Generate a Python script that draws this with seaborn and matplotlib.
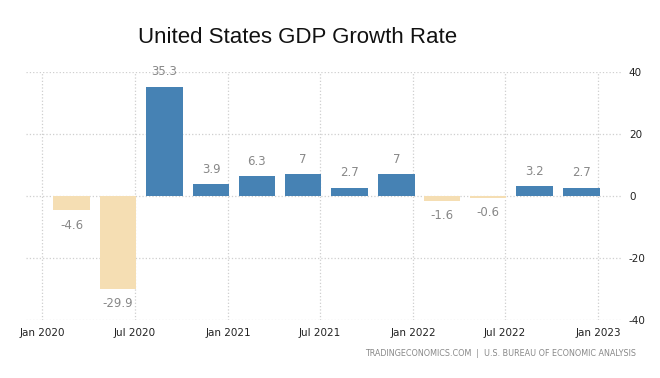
import pandas as pd
import matplotlib
matplotlib.use("Agg")
import matplotlib.pyplot as plt
import matplotlib.dates as mdates
import seaborn as sns

# quarterly GDP growth, annualized %
quarters = ["2020Q1", "2020Q2", "2020Q3", "2020Q4",
            "2021Q1", "2021Q2", "2021Q3", "2021Q4",
            "2022Q1", "2022Q2", "2022Q3", "2022Q4"]
growth = [-4.6, -29.9, 35.3, 3.9, 6.3, 7, 2.7, 7, -1.6, -0.6, 3.2, 2.7]

sns.set_theme(style="white")
plt.rcParams["font.family"] = ["DejaVu Sans"]
plt.rcParams["axes.unicode_minus"] = False

df = pd.DataFrame({"quarter": quarters, "growth": growth})
# bars sit just before the end of each quarter like on the site
qend = pd.PeriodIndex(df["quarter"], freq="Q").end_time.normalize()
df["x"] = mdates.date2num(qend - pd.Timedelta(days=32))
df["sign"] = ["pos" if v >= 0 else "neg" for v in df["growth"]]

fig = plt.figure(figsize=(6.6, 3.78), dpi=100)
ax = fig.add_axes([0.0394, 0.1534, 0.9030, 0.6561])

sns.barplot(data=df, x="x", y="growth", hue="sign", native_scale=True,
            palette={"pos": "#4682b4", "neg": "#f5deb3"}, dodge=False,
            saturation=1, width=0.8, legend=False, linewidth=0,
            ax=ax, zorder=3)

# value labels, above positive bars and below negative ones
for c in ax.containers:
    vals = [b.get_height() for b in c]
    ax.bar_label(c, labels=[f"{v:.1f}".rstrip("0").rstrip(".") for v in vals],
                 padding=6, color="#888888", fontsize=8.5)

ax.set_ylim(-40, 40)
ax.set_yticks([-40, -20, 0, 20, 40])
ax.yaxis.tick_right()
ax.tick_params(axis="y", length=0, pad=5, labelsize=7.5, labelcolor="#222222")

ax.xaxis.set_major_locator(mdates.MonthLocator(bymonth=[1, 7]))
ax.xaxis.set_major_formatter(mdates.DateFormatter("%b %Y"))
ax.set_xlim(mdates.date2num(pd.Timestamp("2019-11-30")),
            mdates.date2num(pd.Timestamp("2023-02-17")))
ax.tick_params(axis="x", length=3, color="#dddddd", pad=3, labelsize=7.5,
               labelcolor="#222222")

ax.grid(True, linestyle=":", color="#cfcfcf", linewidth=0.9, zorder=0)
ax.set_axisbelow(True)
ax.set_xlabel("")
ax.set_ylabel("")
for s in ax.spines.values():
    s.set_visible(False)

fig.text(0.4515, 0.90, "United States GDP Growth Rate", ha="center", va="center",
         fontsize=16, family="Liberation Sans", color="#111111")
fig.text(0.964, 0.065, "TRADINGECONOMICS.COM  |  U.S. BUREAU OF ECONOMIC ANALYSIS",
         ha="right", va="center", fontsize=5.8, color="#888888")

fig.savefig("out.png", dpi=100)
